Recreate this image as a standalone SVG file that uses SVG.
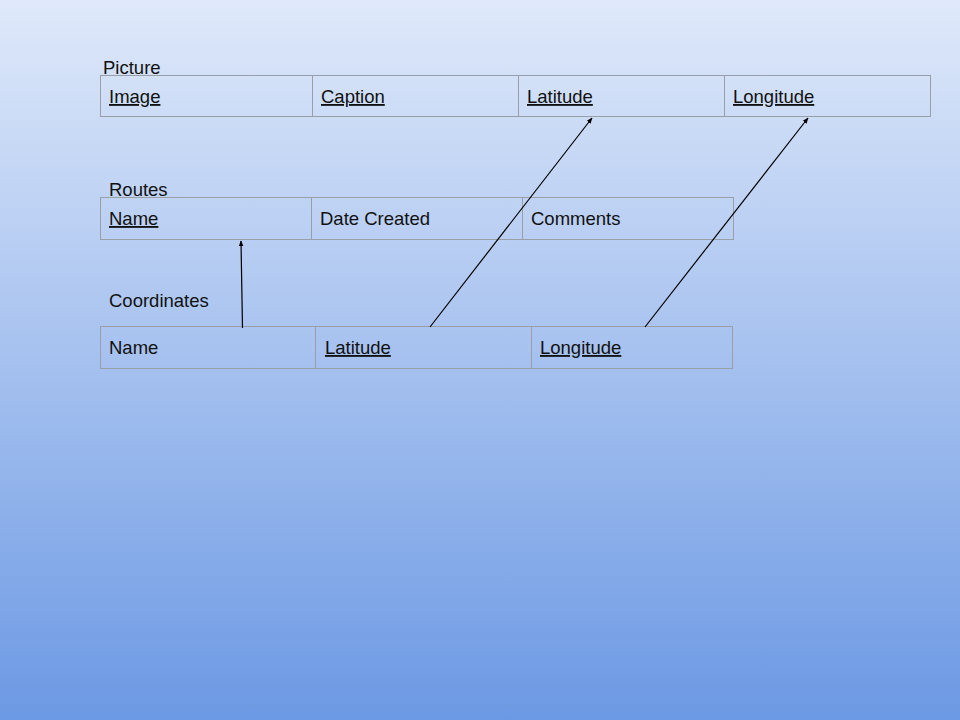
<svg xmlns="http://www.w3.org/2000/svg" width="960" height="720" viewBox="0 0 960 720">
<defs>
<linearGradient id="bg" x1="0" y1="0" x2="0" y2="1">
<stop offset="0" stop-color="#dfe9fa"/>
<stop offset="1" stop-color="#6c99e4"/>
</linearGradient>
<marker id="ah" viewBox="0 0 10 10" refX="9" refY="5" markerWidth="6" markerHeight="6" orient="auto" markerUnits="userSpaceOnUse">
<path d="M0,1 L10,5 L0,9 z" fill="#000"/>
</marker>
<style>
.cell{fill:none;stroke:#9a9ea6;stroke-width:1}
.t{font-family:"Liberation Sans",Arial,sans-serif;font-size:18.5px;fill:#111}
.u{text-decoration:underline}
.c{stroke:#000;stroke-width:1.2;fill:none;marker-end:url(#ah)}
</style>
</defs>
<rect x="0" y="0" width="960" height="720" fill="url(#bg)"/>
<g id="picture">
<text class="t" x="103" y="74">Picture</text>
<rect class="cell" x="100.5" y="75.5" width="830" height="41"/>
<line class="cell" x1="312.5" y1="75.5" x2="312.5" y2="116.5"/>
<line class="cell" x1="518.5" y1="75.5" x2="518.5" y2="116.5"/>
<line class="cell" x1="724.5" y1="75.5" x2="724.5" y2="116.5"/>
<text class="t u" x="109" y="103">Image</text>
<text class="t u" x="321" y="103">Caption</text>
<text class="t u" x="527" y="103">Latitude</text>
<text class="t u" x="733" y="103">Longitude</text>
</g>
<g id="routes">
<text class="t" x="109" y="196">Routes</text>
<rect class="cell" x="100.5" y="197.5" width="633" height="42"/>
<line class="cell" x1="311.5" y1="197.5" x2="311.5" y2="239.5"/>
<line class="cell" x1="522.5" y1="197.5" x2="522.5" y2="239.5"/>
<text class="t u" x="109" y="225">Name</text>
<text class="t" x="320" y="225">Date Created</text>
<text class="t" x="531" y="225">Comments</text>
</g>
<g id="coordinates">
<text class="t" x="109" y="307">Coordinates</text>
<rect class="cell" x="100.5" y="326.5" width="632" height="42"/>
<line class="cell" x1="315.5" y1="326.5" x2="315.5" y2="368.5"/>
<line class="cell" x1="531.5" y1="326.5" x2="531.5" y2="368.5"/>
<text class="t" x="109" y="354">Name</text>
<text class="t u" x="325" y="354">Latitude</text>
<text class="t u" x="540" y="354">Longitude</text>
</g>
<g id="connectors">
<line class="c" x1="242.5" y1="328" x2="241" y2="241"/>
<line class="c" x1="430" y1="327" x2="592" y2="118"/>
<line class="c" x1="645" y1="327" x2="808" y2="118"/>
</g>
</svg>
